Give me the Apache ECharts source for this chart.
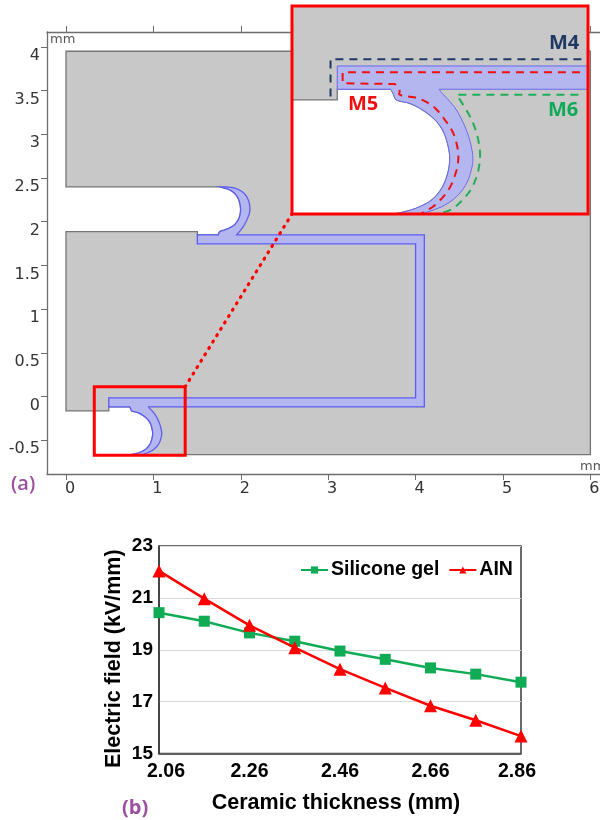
<!DOCTYPE html>
<html><head><meta charset="utf-8">
<style>html,body{margin:0;padding:0;background:#fff}#c{width:600px;height:820px}</style>
<script src="https://cdn.jsdelivr.net/npm/echarts@6/dist/echarts.min.js"></script>
</head><body><div id="c"></div>
<script>
// ---- panel (b) data ----
const thickness = ['2.06','2.16','2.26','2.36','2.46','2.56','2.66','2.76','2.86'];
const siliconeGel = [20.43,20.10,19.65,19.33,18.95,18.63,18.30,18.06,17.75];
const aln = [22.04,20.97,19.94,19.08,18.25,17.53,16.84,16.28,15.67];
// ---- panel (a) axis ticks ----
const geomXTicks = [0,1,2,3,4,5,6];
const geomYTicks = [-0.5,0,0.5,1,1.5,2,2.5,3,3.5,4];
// ---- panel (a) geometry, in mm ----
const lowerInner = [[0.729,-0.118],[0.739,-0.136],[0.751,-0.162],[0.770,-0.170],[0.822,-0.183],[0.882,-0.216],[0.934,-0.260],[0.967,-0.311],[0.987,-0.377],[0.992,-0.428],[0.983,-0.487],[0.956,-0.553],[0.911,-0.604],[0.851,-0.636],[0.792,-0.655],[0.743,-0.665]];
const lowerOuter = [[0.867,-0.665],[0.956,-0.633],[1.022,-0.589],[1.067,-0.531],[1.090,-0.465],[1.095,-0.414],[1.083,-0.348],[1.060,-0.282],[1.022,-0.209],[0.986,-0.165],[0.956,-0.133],[0.945,-0.118]];
const upperInner = [[1.762,2.398],[1.876,2.363],[1.945,2.307],[1.983,2.231],[1.998,2.135],[1.979,2.040],[1.926,1.963],[1.838,1.914],[1.762,1.887],[1.743,1.849]];
const upperOuter = [[1.953,1.849],[2.029,1.944],[2.086,2.059],[2.105,2.143],[2.086,2.249],[2.029,2.333],[1.934,2.383],[1.838,2.398]];
const grayStart = [[0,3.95],[6,3.95],[6,-0.665]];
const grayLowerStep = [[0.49,-0.118],[0.49,-0.165],[0,-0.165],[0,1.887],[1.503,1.887],[1.503,1.849]];
const grayEnd = [[0,2.398]];
const blueChannelStart = [[1.503,1.849]];
const blueChannelRight = [[4.1,1.849],[4.1,-0.118]];
const blueChannelEnd = [[0.49,-0.118],[0.49,-0.016],[4.0,-0.016],[4.0,1.746],[1.503,1.746]];
const sourceBox = [[0.324,0.113],[1.364,0.113],[1.364,-0.671],[0.324,-0.671]];
const connector = [[1.364,0.113],[2.586,2.089]];
const insetRange = {xMin:0.288,xMax:1.609,yMin:-0.665,yMax:0.247};
const insetFrame = [[0.288,0.247],[1.609,0.247],[1.609,-0.665],[0.288,-0.665]];
const m4Path = [[0.460,-0.150],[0.460,0.013],[1.588,0.013]];
const m5Straight = [[1.573,-0.044],[0.514,-0.044],[0.514,-0.092]];
const m5Curve = [[0.747,-0.095],[0.770,-0.121],[0.770,-0.143],[0.852,-0.158],[0.919,-0.194],[0.971,-0.253],[1.008,-0.311],[1.027,-0.377],[1.030,-0.428],[1.018,-0.487],[0.986,-0.560],[0.926,-0.626],[0.866,-0.662]];
const m6Straight = [[1.566,-0.142]];
const m6Curve = [[1.023,-0.142],[1.075,-0.224],[1.105,-0.289],[1.122,-0.355],[1.127,-0.421],[1.112,-0.501],[1.075,-0.574],[1.008,-0.640],[0.956,-0.659]];

// Rounds the outline of a hand-read curve so that it does not show facets.
function curve(pts){
  const out=[];
  for(let i=0;i<pts.length-1;i++){
    const a=pts[Math.max(i-1,0)],b=pts[i],c=pts[i+1],d=pts[Math.min(i+2,pts.length-1)];
    for(let k=0;k<6;k++){
      const t=k/6,t2=t*t,t3=t2*t;
      out.push([0,1].map(function(j){
        return 0.5*(2*b[j]+(c[j]-a[j])*t+(2*a[j]-5*b[j]+4*c[j]-d[j])*t2+(3*b[j]-a[j]-3*c[j]+d[j])*t3);
      }));
    }
  }
  out.push(pts[pts.length-1]);
  return out;
}
const rev=function(a){return a.slice().reverse();};
const grayShape = [].concat(grayStart, rev(curve(lowerInner)), grayLowerStep, rev(curve(upperInner)), grayEnd);
const blueShape = [].concat(blueChannelStart, rev(curve(upperInner)), rev(curve(upperOuter)), blueChannelRight, rev(curve(lowerOuter)), rev(curve(lowerInner)), blueChannelEnd);
const m5Full = m5Straight.concat(curve(m5Curve));
const m6Full = m6Straight.concat(curve(m6Curve));

const GRAY={fill:'#c8c8c8',stroke:'#767676',lineWidth:1.3};
const BLUE={fill:'#b4b6f0',stroke:'#5c5cf2',lineWidth:1.3};
const BLUE2={fill:'#b4b6f0',stroke:'#6a6af0',lineWidth:1};
const RED_FRAME={fill:'none',stroke:'#fe0000',lineWidth:3};

function poly(pts,axisIdx,yIdx,style,z,clip){
  return {type:'custom',coordinateSystem:'cartesian2d',xAxisIndex:axisIdx,yAxisIndex:yIdx,z:z,clip:!!clip,silent:true,animation:false,
    data:pts,
    renderItem:function(p,api){
      if(p.dataIndex!==0) return;
      return {type:'polygon',shape:{points:pts.map(function(q){return api.coord(q);})},style:style};
    }};
}
function path(pts,xIdx,yIdx,color,dash,width,z){
  return {type:'line',xAxisIndex:xIdx,yAxisIndex:yIdx,data:pts,showSymbol:false,symbol:'none',z:z,silent:true,animation:false,clip:true,
    lineStyle:{color:color,width:width,type:dash,cap:dash[0]<3?'round':'butt'}};
}
const mainFrameLine={lineStyle:{color:'#6e6e6e',width:1.3}};
const hiddenAxis={show:false};
const bf='"Liberation Sans",Arial,sans-serif';
const xLab={color:'#000',fontFamily:bf,fontWeight:'bold',fontSize:19.5};

const option={
  backgroundColor:'#fff',animation:false,
  grid:[
    {left:47,top:32,width:553,height:442,outerBoundsMode:'none'},
    {left:292,top:6,width:296,height:208,outerBoundsMode:'none'},
    {left:159,top:546,width:362,height:207.5,outerBoundsMode:'none',show:true,borderColor:'#3a3a3a',borderWidth:1.5,backgroundColor:'transparent'}
  ],
  xAxis:[
    {type:'value',gridIndex:0,min:-0.217,max:6.11,position:'bottom',
      name:'mm',nameLocation:'end',nameGap:-20,nameTextStyle:{color:'#555',fontFamily:'DejaVu Sans',fontSize:13,align:'left',verticalAlign:'bottom',padding:[0,0,1,0]},
      axisLine:{show:true,onZero:false,...mainFrameLine},
      axisTick:{show:true,length:6,customValues:geomXTicks,lineStyle:{color:'#6e6e6e'}},
      axisLabel:{customValues:geomXTicks,color:'#333',fontFamily:'DejaVu Sans',fontSize:16,margin:7,padding:[0,0,0,8],showMinLabel:true,showMaxLabel:true},
      splitLine:{show:false}},
    {type:'value',gridIndex:0,min:-0.217,max:6.11,position:'top',
      axisLine:{show:true,onZero:false,...mainFrameLine},
      axisTick:{show:true,length:6,customValues:geomXTicks,lineStyle:{color:'#6e6e6e'}},
      axisLabel:{show:false},splitLine:{show:false}},
    {type:'value',gridIndex:1,min:insetRange.xMin,max:insetRange.xMax,...hiddenAxis},
    {type:'category',gridIndex:2,data:thickness,boundaryGap:false,
      name:'Ceramic thickness (mm)',nameLocation:'middle',nameGap:39,
      nameTextStyle:{color:'#000',fontFamily:bf,fontWeight:'bold',fontSize:21.5,padding:[0,8,0,0]},
      axisLine:{lineStyle:{color:'#3a3a3a',width:1.5}},
      axisTick:{show:false},
      axisLabel:{interval:1,margin:8,...xLab,
        formatter:function(v){
          if(v==='2.06') return '{a|'+v+'}';
          if(v==='2.86') return '{b|'+v+'}';
          return v;
        },
        rich:{a:{...xLab,padding:[0,0,0,14]},b:{...xLab,padding:[0,8,0,0]}}},
      splitLine:{show:false}}
  ],
  yAxis:[
    {type:'value',gridIndex:0,min:-0.886,max:4.17,
      name:'mm',nameLocation:'end',nameGap:-14,nameTextStyle:{color:'#555',fontFamily:'DejaVu Sans',fontSize:13,align:'left',padding:[0,0,0,3]},
      axisLine:{show:true,onZero:false,...mainFrameLine},
      axisTick:{show:true,length:6,customValues:geomYTicks,lineStyle:{color:'#6e6e6e'}},
      axisLabel:{customValues:geomYTicks,color:'#333',fontFamily:'DejaVu Sans',fontSize:16,margin:7,verticalAlign:'top',padding:[1,0,0,0]},
      splitLine:{show:false}},
    {type:'value',gridIndex:1,min:insetRange.yMin,max:insetRange.yMax,...hiddenAxis},
    {type:'value',gridIndex:2,min:15,max:23,interval:2,
      name:'Electric field (kV/mm)',nameLocation:'middle',nameGap:34,nameMoveOverlap:false,
      nameTextStyle:{color:'#000',fontFamily:bf,fontWeight:'bold',fontSize:21.5,padding:[0,18,0,0]},
      axisLine:{show:true,lineStyle:{color:'#3a3a3a',width:1.5}},
      axisTick:{show:false},
      axisLabel:{color:'#000',fontFamily:bf,fontWeight:'bold',fontSize:19,margin:6},
      splitLine:{show:true,lineStyle:{color:'#d9d9d9',width:1.2}}}
  ],
  legend:{show:true,left:300,top:560,padding:0,itemWidth:27,itemHeight:9,itemGap:9,
    data:['Silicone gel','AIN'],
    textStyle:{color:'#000',fontFamily:bf,fontWeight:'bold',fontSize:19.5,padding:[0,0,0,-2]}},
  series:[
    poly(grayShape,0,0,GRAY,2),
    poly(blueShape,0,0,BLUE,3),
    poly(sourceBox,0,0,RED_FRAME,4),
    path(connector,0,0,'#fe0000',[1,6.5],3.2,4),
    poly(insetFrame,2,1,{fill:'#fff',stroke:'none'},5),
    poly(grayShape,2,1,GRAY,6,true),
    poly(blueShape,2,1,BLUE2,7,true),
    path(m4Path,2,1,'#1f3864',[8,6],2,8),
    path(m5Full,2,1,'#f01010',[8,6],2,8),
    path(m6Full,2,1,'#1fae5a',[8,6],2,8),
    poly(insetFrame,2,1,RED_FRAME,9),
    {type:'line',name:'Silicone gel',xAxisIndex:3,yAxisIndex:2,data:siliconeGel,symbol:'rect',symbolSize:11,showSymbol:true,z:10,clip:false,
      lineStyle:{color:'#10ab55',width:2.5},itemStyle:{color:'#10ab55'},animation:false},
    {type:'line',name:'AIN',xAxisIndex:3,yAxisIndex:2,data:aln,symbol:'triangle',symbolSize:13,showSymbol:true,z:11,clip:false,
      lineStyle:{color:'#fe0000',width:2.5},itemStyle:{color:'#fe0000'},animation:false}
  ],
  graphic:[
    {type:'text',left:549,top:33,z:20,style:{text:'M4',fill:'#1f3864',font:'bold 20px "Open Sans",sans-serif'}},
    {type:'text',left:348,top:94,z:20,style:{text:'M5',fill:'#f01010',font:'bold 20px "Open Sans",sans-serif'}},
    {type:'text',left:548,top:100,z:20,style:{text:'M6',fill:'#0fa958',font:'bold 20px "Open Sans",sans-serif'}},
    {type:'text',left:11,top:474,z:20,style:{text:'(a)',fill:'#9b4f9f',font:'600 20px "Open Sans",sans-serif'}},
    {type:'text',left:122,top:798,z:20,style:{text:'(b)',fill:'#9b4f9f',font:'bold 20px "Open Sans",sans-serif'}}
  ]
};
const chart=echarts.init(document.getElementById('c'),null,{renderer:'canvas'});
chart.setOption(option);
</script></body></html>
